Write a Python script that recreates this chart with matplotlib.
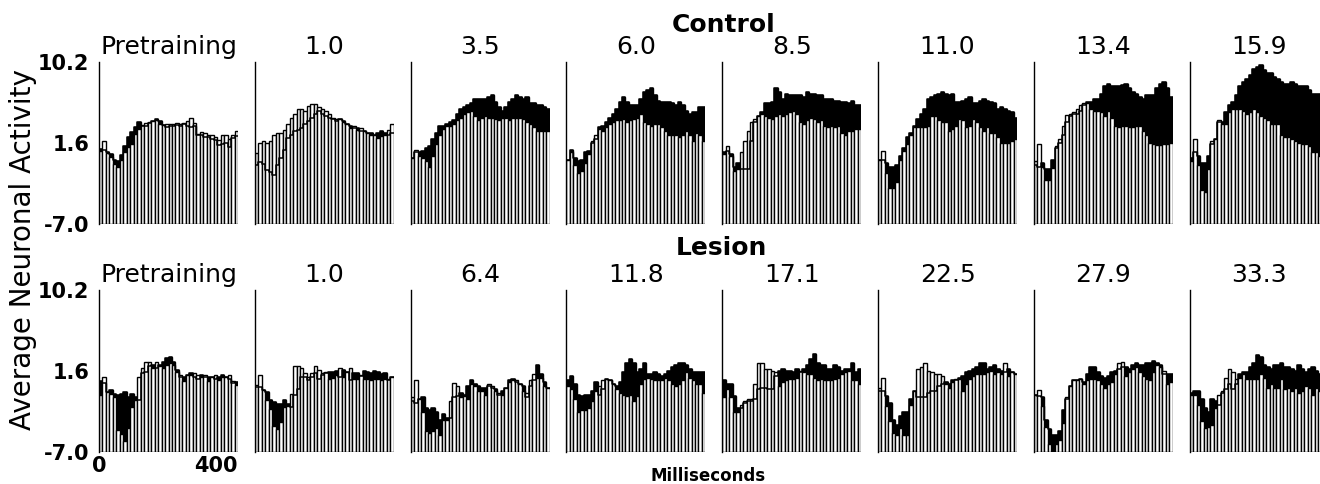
import numpy as np
import matplotlib
matplotlib.use("Agg")
import matplotlib.pyplot as plt

# 40 bins of 10 ms
bin_ms = np.arange(0, 400, 10)

ctrl_titles = ["Pretraining", "1.0", "3.5", "6.0", "8.5", "11.0", "13.4", "15.9"]
lesion_titles = ["Pretraining", "1.0", "6.4", "11.8", "17.1", "22.5", "27.9", "33.3"]

ytick_vals = [-7.0, 1.6, 10.2]
ytick_text = ["-7.0", "1.6", "10.2"]
xtick_vals = [0, 400]
xtick_text = ["0", "400"]

# open (white) bars and filled (black) histogram, per panel
c0_open = [0.7, 1.8, 0.5, 0.1, -0.6, -1.0, -0.2, 0.6, 1.2, 1.5, 2.6, 3.1, 3.5, 3.7, 3.8, 3.9, 4.0, 3.6, 3.5, 3.6,
           3.6, 3.6, 3.7, 3.6, 3.7, 3.9, 4.3, 3.7, 2.6, 2.8, 2.7, 2.4, 2.5, 2.2, 1.9, 2.5, 2.5, 2.0, 2.5, 2.9]
c0_fill = [1.0, 0.9, 0.6, 0.4, -0.2, -0.3, 0.3, 1.3, 2.2, 2.8, 3.3, 3.8, 3.4, 3.4, 3.7, 3.9, 4.2, 3.9, 3.5, 3.3,
           3.4, 3.4, 3.5, 3.4, 3.6, 3.4, 3.3, 3.4, 2.5, 2.4, 2.2, 2.2, 2.0, 1.9, 1.4, 1.5, 1.6, 1.2, 2.1, 2.3]
c1_open = [0.5, 1.6, 1.8, 1.6, 1.8, 2.5, 2.7, 2.7, 3.0, 3.6, 4.3, 4.7, 5.2, 5.2, 5.0, 5.5, 5.7, 5.7, 5.4, 5.2,
           5.0, 4.7, 4.3, 4.1, 4.1, 3.8, 3.6, 3.2, 3.4, 3.0, 3.2, 2.9, 2.7, 2.5, 2.5, 2.1, 2.3, 2.5, 3.0, 3.6]
c1_fill = [-0.7, -0.4, -0.6, -1.3, -1.5, -1.8, -0.7, 0.0, 0.9, 2.1, 2.5, 2.9, 3.0, 3.2, 3.6, 3.9, 4.3, 4.7, 5.0, 4.7,
           4.5, 4.3, 4.1, 3.9, 4.1, 3.9, 3.6, 3.4, 3.2, 3.2, 2.9, 2.9, 2.7, 2.7, 2.5, 2.7, 2.9, 2.7, 2.5, 2.7]
c2_open = [0.0, 0.9, 0.2, 0.0, -0.3, -0.9, 0.2, 1.5, 2.4, 3.1, 3.4, 3.4, 3.6, 4.0, 4.3, 4.7, 4.9, 5.0, 4.5, 4.0,
           4.3, 4.5, 4.3, 4.3, 4.1, 4.0, 4.3, 4.3, 4.0, 4.3, 4.3, 4.3, 4.1, 3.8, 3.6, 3.3, 2.9, 2.9, 2.9, 2.9]
c2_fill = [0.0, 0.6, 0.6, 0.7, 1.1, 1.3, 2.0, 2.7, 3.4, 3.4, 3.6, 3.8, 4.0, 4.7, 5.2, 5.4, 5.6, 5.8, 6.3, 6.3,
           6.3, 6.3, 6.5, 6.7, 5.9, 5.4, 5.0, 5.4, 5.9, 6.3, 6.7, 6.5, 6.3, 6.5, 5.8, 5.8, 5.6, 5.6, 5.4, 5.2]
c3_open = [-0.2, 0.6, -0.7, -1.6, -1.4, -0.5, 0.4, 1.8, 2.5, 3.1, 2.9, 3.3, 3.6, 3.8, 4.0, 4.0, 4.1, 3.8, 4.0, 4.1,
           4.3, 4.7, 3.8, 3.6, 3.4, 3.6, 3.6, 3.3, 2.9, 2.5, 2.4, 2.5, 2.2, 2.4, 2.9, 2.4, 1.8, 2.7, 2.4, 1.8]
c3_fill = [-0.2, 0.9, 0.0, -0.3, -0.2, 0.6, 0.7, 1.6, 2.0, 3.3, 3.4, 3.8, 4.3, 4.7, 5.2, 5.9, 6.5, 5.9, 5.6, 5.6,
           5.6, 6.3, 7.0, 7.2, 7.4, 6.7, 6.1, 5.9, 5.9, 5.9, 5.8, 5.6, 5.9, 5.6, 5.0, 4.7, 4.9, 4.9, 5.4, 5.4]
c4_open = [0.4, 1.3, 0.2, -1.4, -1.2, 0.6, 1.8, 2.9, 3.8, 4.1, 4.5, 4.7, 4.5, 4.3, 4.1, 4.5, 4.7, 4.5, 4.7, 4.9,
           5.0, 4.7, 3.8, 3.6, 4.0, 4.3, 4.1, 3.8, 4.0, 3.4, 3.3, 3.4, 3.3, 3.4, 2.7, 2.5, 2.9, 2.9, 3.1, 3.1]
c4_fill = [0.6, 0.7, 0.4, -0.9, -0.5, -1.2, -1.2, -1.2, 1.8, 3.8, 4.5, 4.9, 5.8, 5.8, 5.9, 7.4, 7.0, 6.3, 6.8, 6.7,
           6.7, 6.7, 6.7, 6.5, 7.0, 6.8, 6.8, 6.7, 6.7, 6.3, 6.3, 6.3, 6.1, 6.1, 5.9, 5.9, 5.8, 6.1, 5.6, 5.6]
c5_open = [-0.2, 0.7, -1.6, -3.2, -3.2, -2.5, -0.2, 0.7, 1.5, 2.4, 3.3, 3.3, 3.3, 3.3, 3.4, 4.5, 4.5, 4.0, 3.8, 3.8,
           2.9, 3.1, 3.4, 4.1, 4.0, 3.3, 3.4, 4.1, 3.8, 3.3, 2.9, 3.3, 2.7, 2.7, 2.2, 1.6, 1.6, 1.6, 1.8, 2.0]
c5_fill = [-0.2, -0.2, -0.5, -0.9, -0.9, -0.7, 0.2, 1.1, 2.2, 2.7, 3.4, 4.1, 4.7, 5.2, 6.3, 6.5, 6.7, 6.8, 7.0, 6.8,
           6.7, 6.8, 5.9, 5.9, 6.1, 6.3, 6.5, 5.8, 5.8, 6.1, 6.3, 6.1, 5.9, 5.8, 5.2, 5.4, 5.2, 5.0, 4.9, 4.3]
c6_open = [-0.3, 1.5, -0.9, -2.3, -2.3, -1.1, 1.3, 2.0, 3.4, 4.6, 4.7, 4.9, 5.2, 5.6, 5.8, 5.8, 5.2, 5.0, 5.0, 4.9,
           4.5, 5.0, 4.3, 3.4, 3.3, 3.4, 3.4, 3.3, 3.3, 3.4, 3.4, 2.9, 2.4, 1.6, 1.5, 1.4, 1.4, 1.5, 1.5, 1.6]
c6_fill = [-0.7, -0.9, -0.5, -1.2, -1.2, -0.2, 1.1, 1.6, 2.4, 3.8, 4.5, 4.7, 4.7, 5.0, 5.6, 5.9, 5.9, 6.3, 6.3, 6.8,
           7.7, 7.9, 7.7, 7.7, 7.7, 7.8, 7.9, 7.4, 7.0, 6.8, 6.5, 6.3, 6.7, 6.7, 6.7, 7.4, 7.9, 8.1, 7.4, 6.5]
c7_open = [-0.3, 2.0, -0.7, -3.4, -3.6, -1.2, 1.8, 2.0, 4.0, 3.6, 3.6, 4.9, 5.2, 5.2, 5.2, 5.0, 4.7, 4.9, 5.2, 4.9,
           4.5, 4.3, 4.0, 3.6, 3.6, 3.6, 2.5, 2.2, 2.2, 2.0, 1.8, 1.6, 1.5, 1.5, 1.3, 0.6, 0.6, 0.2, 0.2, 0.2]
c7_fill = [0.0, 0.6, 0.2, -0.5, -0.5, 0.2, 1.5, 2.0, 3.8, 3.8, 4.9, 5.6, 5.9, 6.7, 7.7, 8.1, 8.4, 8.8, 9.5, 9.7,
           9.9, 9.3, 9.0, 9.0, 8.6, 8.4, 8.1, 7.9, 7.9, 8.1, 7.9, 7.7, 7.7, 7.6, 7.2, 6.8, 6.8, 6.8, 6.8, 6.7]

l0_open = [-1.0, 1.0, -0.6, -0.8, -1.2, -4.7, -5.1, -5.8, -4.4, -2.2, -1.5, 1.0, 1.9, 2.6, 2.6, 1.9, 2.6, 2.1, 1.9, 2.2,
           2.4, 2.2, 1.5, 1.2, 0.5, 1.2, 1.2, 1.4, 1.2, 1.0, 1.2, 0.5, 1.0, 1.2, 0.6, 1.0, 1.0, 1.2, 0.5, 0.1]
l0_fill = [0.5, 0.3, -0.6, -0.4, -0.8, -1.0, -0.8, -0.6, -1.2, -0.8, -1.2, -1.5, 1.4, 1.5, 2.1, 2.2, 1.9, 2.2, 2.6, 3.0,
           3.1, 2.6, 1.7, 1.0, 1.0, 1.2, 1.4, 1.0, 0.8, 1.2, 1.0, 1.0, 1.0, 0.8, 1.0, 1.2, 1.0, 0.8, 0.3, 0.4]
l1_open = [0.1, 1.2, -0.4, -1.5, -2.4, -4.2, -4.6, -3.8, -2.2, -2.1, -0.8, 2.1, 2.1, 1.9, 1.4, 1.0, 1.4, 2.1, 1.7, 1.4,
           1.5, 0.8, 0.9, 1.2, 1.9, 1.0, 1.5, 1.9, 0.7, 0.8, 1.2, 0.8, 0.7, 0.6, 0.8, 0.7, 0.6, 0.8, 0.8, 1.0]
l1_fill = [-0.1, -0.1, -0.4, -0.6, -1.5, -1.7, -1.9, -1.9, -1.5, -1.9, -2.2, -1.0, -0.3, 1.0, 1.0, 0.6, 1.0, 1.4, 0.8, 1.2,
           1.4, 1.5, 1.5, 1.6, 1.0, 1.7, 1.5, 0.6, 1.4, 1.4, 1.1, 1.6, 1.5, 1.4, 1.6, 1.5, 1.3, 1.4, 0.6, 1.0]
l2_open = [-1.2, 0.6, -1.4, -2.8, -4.8, -5.0, -4.8, -4.5, -5.2, -3.6, -3.6, -1.6, 0.3, 0.0, -1.2, -1.1, -1.4, 0.2, 0.0, -0.5,
           -0.5, -0.9, 0.2, 0.0, -0.5, -0.7, -0.9, -0.2, 0.4, 0.6, 0.6, 0.2, -0.5, -0.7, 0.6, 1.3, 0.9, 0.9, 0.0, -0.2]
l2_fill = [-1.6, -1.8, -1.4, -1.2, -2.3, -2.5, -2.3, -2.8, -3.6, -3.0, -3.4, -3.4, -1.2, -1.1, -0.7, -0.9, 0.0, 0.6, 0.2, 0.0,
           -0.2, -0.2, 0.0, -0.2, -0.3, -0.9, -0.5, -0.2, 0.6, 0.7, 0.4, 0.2, 0.0, -1.2, 0.0, 0.6, 2.2, 1.3, 0.4, -0.2]
l3_open = [0.0, -0.3, -1.4, -2.8, -2.5, -2.5, -2.3, -1.6, -0.5, 0.0, 0.6, 0.7, 0.6, 0.2, -0.3, -0.7, -0.9, -1.1, -0.9, -1.6,
           -1.1, 0.2, 0.7, 0.9, 0.7, 0.6, 0.6, 0.6, 0.9, 0.6, 0.2, 0.0, 0.2, 0.6, 1.5, 0.9, 0.6, 0.2, 0.2, -0.7]
l3_fill = [0.6, 1.1, 0.2, -0.9, -1.1, -0.9, -0.9, -0.5, 0.4, -0.9, -0.3, 0.7, 0.6, 0.2, 0.0, 0.4, 1.5, 2.4, 2.9, 2.4,
           1.5, 1.8, 2.5, 1.3, 1.3, 1.5, 1.3, 1.1, 1.3, 1.6, 2.0, 2.2, 2.4, 2.5, 2.2, 1.8, 1.5, 1.5, 1.5, 1.5]
l4_open = [-1.2, -0.3, -1.2, -2.7, -2.7, -2.0, -1.6, -1.4, -1.4, 0.2, 2.5, 2.4, 1.8, 1.8, 1.6, 1.5, 0.0, 0.4, 0.6, 0.7,
           0.7, 0.9, 1.6, 1.5, 1.3, 1.3, 0.9, 0.6, 0.7, 0.6, 0.6, 0.6, 0.7, 0.9, 1.3, 1.5, 1.6, 0.6, 0.6, 0.2]
l4_fill = [0.6, 0.2, 0.2, -1.1, -2.3, -2.3, -1.8, -1.6, -1.6, -1.4, -0.3, -0.2, -0.2, -0.3, -0.3, 1.1, 1.6, 1.8, 1.6, 1.6,
           1.5, 1.8, 1.5, 1.8, 2.2, 2.9, 3.4, 2.4, 2.2, 2.2, 1.8, 1.8, 2.2, 2.0, 1.6, 1.8, 1.8, 2.4, 1.5, 1.8]
l5_open = [-0.2, 0.9, -2.1, -3.7, -5.0, -5.2, -4.5, -5.2, -5.2, -2.0, -0.5, 1.8, 2.0, 2.4, 1.6, 1.5, 1.3, 1.3, 1.1, 0.2,
           -0.2, 0.4, 0.7, 0.7, -0.5, 0.2, 0.7, 1.1, 1.3, 1.3, 1.3, 1.5, 1.6, 1.3, 1.5, 1.3, 2.4, 1.1, 1.5, 1.3]
l5_fill = [-0.5, -0.5, -1.1, -1.8, -3.6, -4.1, -3.2, -2.8, -2.7, -1.4, -0.5, -1.2, -1.2, -1.2, -0.7, -0.5, -0.5, 0.0, 0.2, 0.4,
           0.2, 0.6, 0.6, 0.9, 1.1, 1.5, 1.6, 1.8, 2.0, 2.4, 2.5, 1.8, 2.0, 2.2, 1.8, 1.6, 1.5, 1.8, 1.5, 1.3]
l6_open = [-0.9, -0.4, -2.1, -4.3, -6.1, -7.0, -6.2, -5.7, -3.9, -1.2, 0.0, 0.6, 0.6, 0.7, 0.2, 0.6, 0.7, 0.7, 0.6, 0.2,
           -0.2, 0.2, 0.4, 1.3, 2.5, 2.6, 1.1, 1.5, 1.8, 2.0, 1.5, 1.1, 0.7, 0.6, 1.5, 2.2, 2.0, 1.6, 0.2, 0.4]
l6_fill = [-0.9, -1.1, -1.2, -3.6, -4.6, -5.2, -5.2, -4.8, -2.5, -1.4, 0.0, 0.6, 0.6, 0.7, 0.4, 1.3, 2.0, 2.0, 1.5, 1.1,
           0.9, 1.1, 1.5, 1.6, 1.8, 2.0, 2.0, 1.8, 2.2, 2.4, 2.2, 2.2, 2.4, 2.5, 2.7, 2.4, 2.2, 1.3, 1.3, 1.3]
l7_open = [-0.9, -0.9, -2.0, -3.7, -4.5, -4.3, -4.1, -2.3, -0.9, -0.5, 0.9, 1.8, 1.5, 0.7, 0.9, 1.3, 0.7, 0.7, 0.7, 0.7,
           1.3, 0.9, -0.2, 0.2, -0.2, -0.2, 0.7, -0.3, -0.2, -0.5, -0.2, -0.7, -0.5, 0.0, -0.2, -0.9, -0.2, -0.5, -0.5, -0.5]
l7_fill = [-0.7, -0.5, -0.5, -1.4, -2.3, -2.7, -1.4, -1.6, -2.0, -0.7, -0.3, 0.2, -0.3, 0.2, 1.3, 1.5, 1.5, 2.0, 2.5, 3.3,
           3.1, 2.2, 2.0, 1.8, 2.2, 2.2, 2.4, 2.0, 2.0, 1.8, 1.6, 2.2, 1.8, 1.5, 1.8, 2.0, 1.6, 1.3, 1.3, 1.1]

ctrl_open = [c0_open, c1_open, c2_open, c3_open, c4_open, c5_open, c6_open, c7_open]
ctrl_fill = [c0_fill, c1_fill, c2_fill, c3_fill, c4_fill, c5_fill, c6_fill, c7_fill]
lesion_open = [l0_open, l1_open, l2_open, l3_open, l4_open, l5_open, l6_open, l7_open]
lesion_fill = [l0_fill, l1_fill, l2_fill, l3_fill, l4_fill, l5_fill, l6_fill, l7_fill]

BASE, TOP = -7.0, 10.2
W, H = 1320, 484


def draw_panel(ax, open_vals, fill_vals):
    open_vals = np.asarray(open_vals)
    fill_vals = np.asarray(fill_vals)
    # black histogram first, open bars over it, then the black outline on top
    ax.bar(bin_ms, fill_vals - BASE, bottom=BASE, width=10, align="edge",
           color="black", edgecolor="black", linewidth=1.0, zorder=1)
    ax.bar(bin_ms, open_vals - BASE, bottom=BASE, width=10, align="edge",
           color="white", edgecolor="black", linewidth=1.0, zorder=2)
    ax.step(np.append(bin_ms, 400), np.append(fill_vals, fill_vals[-1]), where="post",
            color="black", lw=1.1, zorder=3)
    ax.set_xlim(0, 400)
    ax.set_ylim(BASE, TOP)
    for s in ["top", "right", "bottom"]:
        ax.spines[s].set_visible(False)
    ax.spines["left"].set_linewidth(1.0)
    ax.set_xticks([])
    ax.set_yticks([])
    ax.tick_params(length=0)


fig = plt.figure(figsize=(W / 100, H / 100), dpi=100)

lefts = [99 + 155.8 * i for i in range(8)]
rows = [(ctrl_titles, ctrl_open, ctrl_fill, 62), (lesion_titles, lesion_open, lesion_fill, 290)]

for r, (titles, opens, fills, top_px) in enumerate(rows):
    for i in range(8):
        ax = fig.add_axes([lefts[i] / W, 1 - (top_px + 162) / H, 139 / W, 162 / H])
        draw_panel(ax, opens[i], fills[i])
        ax.annotate(titles[i], xy=(0.5, 1.0), xycoords="axes fraction", xytext=(0, 6),
                    textcoords="offset points", ha="center", va="baseline", fontsize=18)
        if i == 0:
            ax.set_yticks(ytick_vals)
            ax.set_yticklabels(ytick_text, fontsize=15, fontweight="bold")
            ax.tick_params(axis="y", length=0, pad=7)
        if i == 0 and r == 1:
            ax.set_xticks(xtick_vals)
            ax.set_xticklabels(xtick_text, fontsize=15, fontweight="bold")
            ax.tick_params(axis="x", length=0, pad=3)
            ax.get_xticklabels()[1].set_horizontalalignment("right")

fig.text(724 / W, 1 - 25 / H, "Control", ha="center", va="center", fontsize=18, fontweight="bold")
fig.text(721 / W, 1 - 248 / H, "Lesion", ha="center", va="center", fontsize=18, fontweight="bold")
fig.text(23 / W, 1 - 250 / H, "Average Neuronal Activity", rotation=90, ha="center", va="center", fontsize=20)
fig.text(708 / W, 1 - 476 / H, "Milliseconds", ha="center", va="center", fontsize=12, fontweight="bold")

fig.savefig("out.png", dpi=100)
